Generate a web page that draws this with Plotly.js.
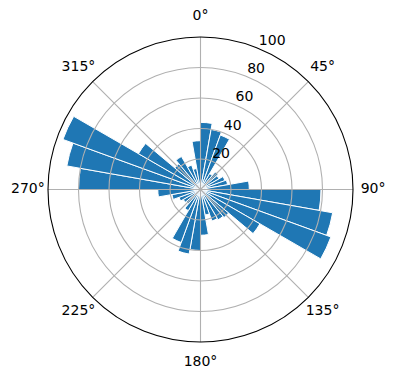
<!DOCTYPE html>
<html>
<head>
<meta charset="utf-8">
<script src="https://cdn.plot.ly/plotly-3.0.1.min.js"></script>
<style>html,body{margin:0;padding:0;background:#fff;}#chart{width:396px;height:380px;}</style>
</head>
<body>
<div id="chart"></div>
<script>
// bin centre directions (degrees, clockwise from north)
const directions = [5,15,25,35,45,55,65,75,85,95,105,115,125,135,145,155,165,175,
                    185,195,205,215,225,235,245,255,265,275,285,295,305,315,325,335,345,355];
// bar lengths per bin
const counts = [44,40,38,12,15,14,17,18,32,
                79,88,91,45,24,23,22,17,30,
                40,43,37,16,12,13,15,19,28,
                80,89,96,47,22,25,17,14,32];
const binWidth = 10;
const angleTicks = [0,45,90,135,180,225,270,315];
const angleLabels = ['0°','45°','90°','135°','180°','225°','270°','315°'];
const radialTicks = [20,40,60,80,100];
const radialLabels = ['20','40','60','80','100'];
const radialLabelDirection = 22.5;
const rMax = 100;
// label layer: a larger concentric polar frame (range 0..120) so labels sit just outside r=100
const labelFrameMax = 120;
const angleLabelRadius = 113.2;

const font = {family:'DejaVu Sans, sans-serif', size:14, color:'#000'};
// main frame: centre (200.5,189.5), radius 152.5 px
const cx = 200.5, cyB = 380 - 189.5, R = 152.5, W = 396, H = 380;
const dom = {x:[(cx-R)/W, (cx+R)/W], y:[(cyB-R)/H, (cyB+R)/H]};
const R3 = R * labelFrameMax / rMax;
const dom3 = {x:[(cx-R3)/W, (cx+R3)/W], y:[(cyB-R3)/H, (cyB+R3)/H]};

const traces = [
  {type:'barpolar', r:counts, theta:directions, width:directions.map(()=>binWidth),
   marker:{color:'#1f77b4', line:{color:'#ffffff', width:1}}, subplot:'polar', hoverinfo:'skip'},
  {type:'scatterpolar', r:radialTicks, theta:radialTicks.map(()=>radialLabelDirection),
   text:radialLabels, mode:'text', textposition:'top right', textfont:font,
   subplot:'polar2', hoverinfo:'skip', cliponaxis:false},
  {type:'scatterpolar', r:angleTicks.map(()=>angleLabelRadius), theta:angleTicks,
   text:angleLabels, mode:'text', textposition:'middle center', textfont:font,
   subplot:'polar3', hoverinfo:'skip', cliponaxis:false}
];

const hiddenAxes = {
  angularaxis:{direction:'clockwise', rotation:90, showgrid:false, showline:false,
    showticklabels:false, ticks:''}
};

const layout = {
  width:W, height:H, margin:{l:0,r:0,t:0,b:0}, showlegend:false,
  paper_bgcolor:'#fff', font:font,
  polar:{
    domain:dom, bgcolor:'#fff',
    angularaxis:hiddenAxes.angularaxis,
    radialaxis:{range:[0,rMax], showgrid:false, showline:false, showticklabels:false, ticks:''}
  },
  polar2:{
    domain:dom, bgcolor:'rgba(0,0,0,0)',
    angularaxis:{direction:'clockwise', rotation:90, tickmode:'array', tickvals:angleTicks,
      showticklabels:false, showgrid:true, gridcolor:'#b0b0b0', gridwidth:1.1,
      showline:true, linecolor:'#000', linewidth:1.1, ticks:''},
    radialaxis:{range:[0,rMax], tickmode:'array', tickvals:radialTicks,
      angle:67.5, showline:false, showticklabels:false, ticks:'', gridcolor:'#b0b0b0', gridwidth:1.1}
  },
  polar3:{
    domain:dom3, bgcolor:'rgba(0,0,0,0)',
    angularaxis:hiddenAxes.angularaxis,
    radialaxis:{range:[0,labelFrameMax], showgrid:false, showline:false, showticklabels:false, ticks:''}
  }
};
Plotly.newPlot('chart', traces, layout, {staticPlot:true});
</script>
</body>
</html>
